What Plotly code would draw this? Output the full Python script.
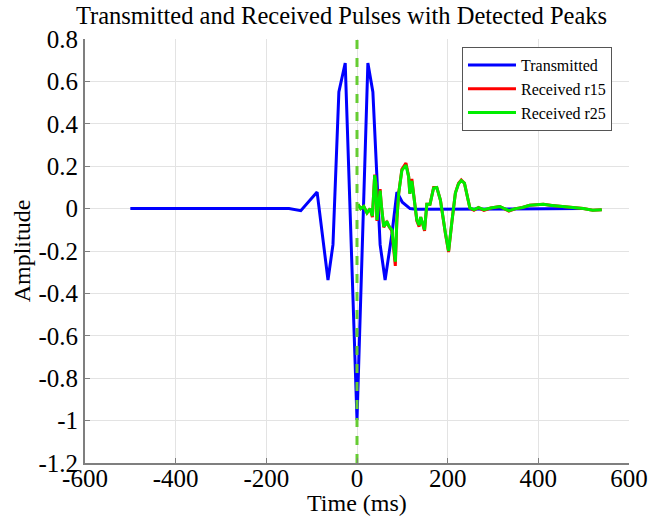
import plotly.graph_objects as go

# Transmitted pulse
tx_t = [-500, -150, -124, -104, -88, -64, -53, -40, -26, 0, 24, 35, 51, 62, 77, 88, 100, 117, 130, 500]
tx_a = [0.0, 0.0, -0.01, 0.04, 0.078, -0.337, -0.17, 0.55, 0.687, -0.997, 0.687, 0.55, -0.17, -0.337, -0.12, 0.078, 0.03, 0.0, -0.003, 0.0]

# Received r25 (green)
r25_t = [2, 8, 15, 22, 29, 34, 39, 41.5, 44, 48, 51, 53.5, 59, 61, 66, 71, 77, 80, 84.5, 88, 92, 99, 108, 114, 116.5, 121, 125, 132, 137, 140.5, 149, 154, 161, 169, 176, 184, 195, 202, 209, 217, 224, 230, 237, 243, 249, 258, 268, 280, 295, 315, 335, 350, 365, 381, 395, 411, 430, 455, 480, 499, 520, 540]
r25_a = [0.02, 0.0, 0.01, -0.02, 0.0, -0.035, 0.158, 0.12, -0.054, 0.03, 0.085, 0.02, -0.085, -0.08, -0.06, -0.085, -0.1, -0.16, -0.25, -0.05, 0.073, 0.18, 0.205, 0.15, 0.07, 0.13, 0.055, -0.054, -0.078, -0.04, -0.1, 0.02, 0.02, 0.097, 0.1, 0.04, -0.115, -0.2, -0.068, 0.073, 0.117, 0.132, 0.12, 0.06, 0.003, -0.005, 0.005, -0.005, 0.003, 0.01, -0.01, 0.0, 0.005, 0.016, 0.018, 0.02, 0.015, 0.01, 0.005, 0.0, -0.008, -0.005]

# Received r15 (red)
r15_t = [2, 8, 15, 22, 29, 34, 39, 41.5, 44, 48, 51, 53.5, 59, 61, 66, 71, 77, 80, 84.5, 88, 92, 99, 108, 114, 116.5, 121, 125, 132, 137, 140.5, 149, 154, 161, 169, 176, 184, 195, 202, 209, 217, 224, 230, 237, 243, 249, 258, 268, 280, 295, 315, 335, 350, 365, 381, 395, 411, 430, 455, 480, 499, 520, 540]
r15_a = [0.02, 0.0, 0.01, -0.02, 0.0, -0.04, 0.16, 0.12, -0.058, 0.03, 0.092, 0.02, -0.088, -0.08, -0.065, -0.085, -0.105, -0.17, -0.27, -0.05, 0.073, 0.185, 0.215, 0.15, 0.07, 0.14, 0.055, -0.058, -0.085, -0.04, -0.105, 0.02, 0.02, 0.1, 0.1, 0.04, -0.118, -0.205, -0.068, 0.073, 0.12, 0.135, 0.12, 0.06, 0.003, -0.008, 0.005, -0.008, 0.003, 0.01, -0.012, 0.0, 0.005, 0.016, 0.018, 0.02, 0.015, 0.01, 0.005, 0.0, -0.008, -0.005]

x_ticks = [-600, -400, -200, 0, 200, 400, 600]
y_ticks = [0.8, 0.6, 0.4, 0.2, 0, -0.2, -0.4, -0.6, -0.8, -1, -1.2]
y_tick_text = ["0.8", "0.6", "0.4", "0.2", "0", "-0.2", "-0.4", "-0.6", "-0.8", "-1", "-1.2"]
x_tick_text = ["-600", "-400", "-200", "0", "200", "400", "600"]

FONT = "Liberation Serif, Times New Roman, serif"

fig = go.Figure()
fig.add_trace(go.Scatter(x=tx_t, y=tx_a, mode="lines", name="Transmitted",
                         line=dict(color="#0000ff", width=3)))
fig.add_trace(go.Scatter(x=r15_t, y=r15_a, mode="lines", name="Received r15",
                         line=dict(color="#ff0000", width=3)))
fig.add_trace(go.Scatter(x=r25_t, y=r25_a, mode="lines", name="Received r25",
                         line=dict(color="#00ee00", width=3)))
fig.add_trace(go.Scatter(x=[0, 0], y=[-1.2, 0.8], mode="lines", showlegend=False,
                         line=dict(color="#66cc33", width=3, dash="dash")))

fig.update_layout(
    width=648, height=518,
    margin=dict(l=85, r=19, t=39, b=55),
    paper_bgcolor="white", plot_bgcolor="white",
    font=dict(family=FONT, color="black"),
    title=dict(text="Transmitted and Received Pulses with Detected Peaks",
               x=0.527, xanchor="center", y=0.971, yanchor="middle",
               font=dict(size=24.5, family=FONT, color="black")),
    showlegend=True,
    legend=dict(x=0.693, y=0.981, xanchor="left", yanchor="top",
                bgcolor="white", bordercolor="#555555", borderwidth=1,
                font=dict(size=16, family=FONT, color="black"),
                tracegroupgap=0, itemwidth=48),
    xaxis=dict(range=[-600, 600], tickvals=x_ticks, ticktext=x_tick_text,
               showgrid=True, gridcolor="#e3e3e3", gridwidth=1,
               showline=True, linecolor="#7f7f7f", linewidth=2,
               ticks="inside", ticklen=5, tickcolor="#7f7f7f",
               zeroline=False, tickfont=dict(size=25, family=FONT),
               automargin=False, ticklabelstandoff=-8),
    yaxis=dict(range=[-1.2, 0.8], tickvals=y_ticks, ticktext=y_tick_text,
               showgrid=True, gridcolor="#e3e3e3", gridwidth=1,
               showline=True, linecolor="#7f7f7f", linewidth=2,
               ticks="inside", ticklen=5, tickcolor="#7f7f7f",
               zeroline=False, tickfont=dict(size=25, family=FONT),
               automargin=False,
               title=dict(text="Amplitude", font=dict(size=24, family=FONT), standoff=1)),
    annotations=[dict(text="Time (ms)", xref="paper", yref="paper", x=0.5, y=-0.095,
                      xanchor="center", yanchor="middle", showarrow=False,
                      font=dict(size=24, family=FONT, color="black"))],
)
fig.write_html("out.html", config={"displayModeBar": False},
               post_script="document.body.style.margin='0';")
